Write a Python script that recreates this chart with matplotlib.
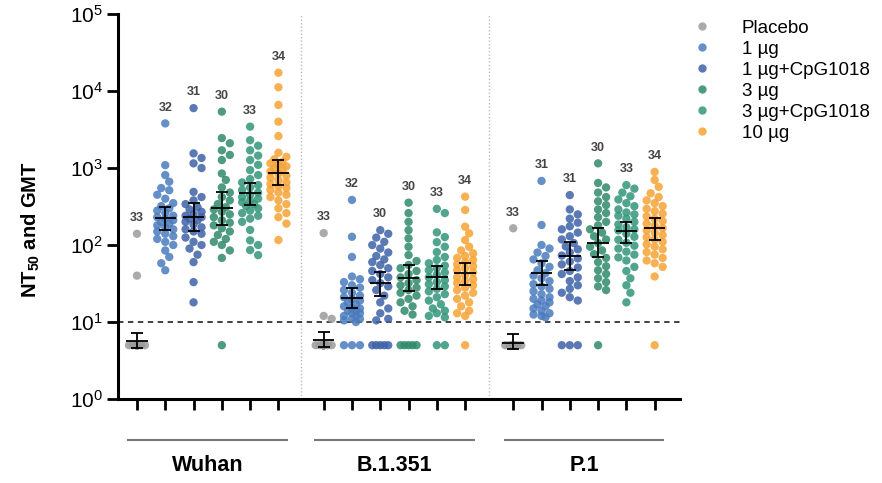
import numpy as np
import matplotlib
matplotlib.use('Agg')
import matplotlib.pyplot as plt
from matplotlib.lines import Line2D
import matplotlib.transforms as mtransforms

plt.rcParams['font.family'] = ['Liberation Sans', 'DejaVu Sans']
plt.rcParams['mathtext.fontset'] = 'custom'
plt.rcParams['mathtext.rm'] = 'Liberation Sans'
plt.rcParams['mathtext.bf'] = 'Liberation Sans:bold'

# ---- data ----
variants = ['Wuhan', 'B.1.351', 'P.1']
groups = ['Placebo', '1 µg', '1 µg+CpG1018', '3 µg', '3 µg+CpG1018', '10 µg']
colors = ['#9b9b9b', '#4a7bbd', '#3e63a8', '#2f8a6c', '#33957a', '#f6a234']

n_labels = [[33, 32, 31, 30, 33, 34],
            [33, 32, 30, 30, 33, 34],
            [33, 31, 31, 30, 33, 34]]

wuhan = [
    [140, 40] + [5] * 31,
    [3800, 1090, 810, 665, 550, 515, 450, 400, 350, 320, 300, 280, 260, 240, 230, 220,
     210, 200, 190, 180, 170, 160, 150, 140, 130, 120, 110, 100, 85, 70, 58, 47],
    [6000, 1550, 1350, 1150, 1000, 490, 420, 380, 340, 310, 290, 270, 250, 240, 230, 220,
     210, 200, 185, 170, 160, 150, 140, 125, 110, 100, 90, 75, 60, 33, 18],
    [5400, 2450, 2100, 1700, 1480, 1270, 850, 700, 560, 480, 420, 380, 340, 310, 290,
     270, 250, 230, 210, 195, 180, 165, 150, 135, 120, 110, 100, 85, 68, 5],
    [3450, 2300, 1950, 1700, 1450, 1270, 1100, 940, 810, 720, 650, 600, 560, 520, 480,
     450, 420, 400, 380, 360, 340, 320, 300, 280, 260, 240, 220, 200, 157, 115, 100, 86, 74],
    [17300, 11200, 6600, 4000, 2600, 1580, 1400, 1300, 1200, 1150, 1100, 1050, 1000, 950,
     900, 850, 800, 750, 700, 650, 620, 580, 550, 520, 480, 450, 420, 380, 340, 300, 260,
     230, 190, 116],
]
b1351 = [
    [143, 12, 11] + [5] * 30,
    [385, 128, 70, 39, 36, 33, 30, 28, 26, 24, 22, 21, 20, 19, 18, 17, 16, 15, 15, 14, 14,
     13, 13, 12, 12, 11, 11, 10.5, 10, 5, 5, 5],
    [156, 140, 125, 110, 100, 90, 80, 72, 65, 60, 55, 50, 46, 42, 38, 35, 32, 29, 26, 22,
     18, 15, 13, 11, 10.5, 5, 5, 5, 5, 5],
    [355, 260, 200, 156, 122, 95, 74, 62, 55, 50, 46, 42, 38, 35, 32, 30, 28, 26, 24, 22,
     20, 18, 16, 14, 12.5, 5, 5, 5, 5, 5],
    [295, 260, 146, 127, 109, 95, 81, 70, 64, 58, 54, 50, 47, 44, 41, 38, 35, 33, 31, 29,
     27, 25, 23, 21, 19, 17, 15, 14, 13, 12, 11.5, 5, 5],
    [425, 285, 173, 142, 116, 95, 85, 78, 72, 68, 64, 60, 56, 53, 50, 47, 44, 41, 38, 36,
     34, 32, 30, 28, 26, 24, 22, 20, 18, 16, 14, 13, 12, 5],
]
p1 = [
    [165] + [5] * 32,
    [680, 182, 100, 90, 80, 72, 65, 58, 52, 47, 43, 40, 37, 34, 31, 29, 27, 25, 23, 21, 20,
     19, 18, 17, 16, 15, 14, 13, 12.5, 12, 11.5],
    [445, 290, 250, 220, 195, 175, 160, 145, 130, 118, 106, 96, 88, 80, 73, 67, 61, 56, 51,
     46, 42, 38, 34, 30, 27, 24, 21, 19, 5, 5, 5],
    [1150, 640, 560, 480, 420, 370, 330, 290, 260, 230, 200, 180, 160, 145, 130, 118, 106,
     95, 85, 76, 68, 60, 53, 47, 42, 37, 33, 29, 26, 5],
    [600, 540, 480, 430, 390, 350, 320, 290, 265, 250, 240, 220, 200, 185, 170, 160, 155,
     140, 128, 117, 107, 98, 90, 82, 75, 69, 63, 52, 46, 37, 30, 24, 18],
    [890, 700, 570, 470, 420, 380, 350, 320, 295, 275, 255, 235, 220, 205, 190, 178, 166,
     155, 145, 135, 126, 118, 110, 102, 95, 88, 81, 75, 68, 63, 58, 52, 39, 5],
]
all_data = [wuhan, b1351, p1]

# geometric means and 95% CI as drawn
gmt = [[5.6, 224, 230, 302, 473, 860],
       [5.8, 20.5, 32, 37, 38, 43],
       [5.3, 43, 72, 106, 152, 166]]
ci_lo = [[4.6, 157, 152, 182, 331, 600],
         [4.7, 15, 22, 25, 27, 30],
         [4.5, 30, 47, 70, 106, 116]]
ci_hi = [[7.2, 311, 350, 490, 640, 1260],
         [7.4, 28, 45, 55, 54, 58],
         [7.0, 62, 109, 166, 200, 225]]

lod = 10
offsets = [0, 6.6, 13.3]

# ---- figure ----
fig = plt.figure(figsize=(8.82, 4.83), dpi=100)
ax = fig.add_axes([0.1338, 0.1739, 0.637, 0.797])
ax.set_yscale('log')
ax.set_ylim(1, 1e5)
ax.set_xlim(-0.67, 19.19)

px_per_unit = 28.3
px_per_decade = 77.0
dot_d = 8.0


def swarm(values, max_off=8.0):
    # simple beeswarm in pixel space, overlapping once max_off is hit
    vals = np.sort(np.asarray(values, float))[::-1]
    ys = np.log10(vals) * px_per_decade
    placed = []
    xs = []
    cands = [0.0]
    k = 1
    while k * dot_d * 0.5 <= max_off + 1e-9:
        cands += [k * dot_d * 0.5, -k * dot_d * 0.5]
        k += 1
    for y in ys:
        best, best_score = 0.0, -1
        for c in cands:
            if placed:
                d = min(np.hypot(c - px, y - py) for px, py in placed)
            else:
                d = 99
            score = min(d, dot_d * 0.95)
            if score > best_score + 1e-6:
                best, best_score = c, score
        placed.append((best, y))
        xs.append(best)
    return np.array(xs) / px_per_unit, vals


positions = []
for v in range(3):
    for g in range(6):
        x0 = offsets[v] + g
        positions.append(x0)
        xo, vals = swarm(all_data[v][g])
        ax.scatter(x0 + xo, vals, s=36, color=colors[g], alpha=0.85,
                   edgecolors='none', zorder=3)
        ax.errorbar(x0, gmt[v][g],
                    yerr=[[gmt[v][g] - ci_lo[v][g]], [ci_hi[v][g] - gmt[v][g]]],
                    fmt='none', ecolor='black', elinewidth=1.3, capsize=4.5,
                    capthick=1.3, zorder=4)
        ax.hlines(gmt[v][g], x0 - 0.38, x0 + 0.38, color='black', lw=1.3, zorder=4)
        ax.annotate(str(n_labels[v][g]), (x0, max(all_data[v][g])),
                    xytext=(0, 7), textcoords='offset points', ha='center',
                    va='bottom', fontsize=9, fontweight='bold', color='#444444')

# limit of detection and separators
ax.axhline(lod, color='#333333', lw=1.3, ls=(0, (3, 2.5)), zorder=2)
for xs in [(offsets[0] + 5 + offsets[1]) / 2, (offsets[1] + 5 + offsets[2]) / 2]:
    ax.axvline(xs, color='#bbbbbb', lw=1, ls=(0, (1, 1.5)), zorder=1)

# axes styling
for s in ['top', 'right']:
    ax.spines[s].set_visible(False)
for s in ['left', 'bottom']:
    ax.spines[s].set_linewidth(2.2)
ax.set_xticks(positions)
ax.set_xticklabels([])
ax.set_yticks([1, 10, 100, 1000, 1e4, 1e5])
ax.minorticks_off()
ax.yaxis.set_minor_locator(matplotlib.ticker.NullLocator())
ax.tick_params(axis='both', length=8, width=2, color='black')
ax.tick_params(axis='y', labelsize=15, pad=3)
ax.set_ylabel(r'NT$_{\mathbf{50}}$ and GMT', fontsize=14.5, fontweight='bold')
ax.yaxis.set_label_coords(-0.135, 0.44)

# group labels under the axis
trans = mtransforms.blended_transform_factory(ax.transData, ax.transAxes)
for v, name in enumerate(variants):
    a, b = offsets[v] - 0.3, offsets[v] + 5 + 0.3
    ax.plot([a, b], [-0.106, -0.106], transform=trans, color='#777777', lw=1.5,
            clip_on=False)
    ax.text((a + b) / 2, -0.174, name, transform=trans, ha='center', va='center',
            fontsize=15.5, fontweight='bold')

# legend
handles = [Line2D([], [], ls='none', marker='o', ms=6, color=c, alpha=0.85,
                  markeredgewidth=0) for c in colors]
fig.legend(handles, groups, loc='upper left', bbox_to_anchor=(0.777, 0.975),
           frameon=False, fontsize=13.5, handletextpad=1.6, labelspacing=0.21,
           handlelength=1.0, borderaxespad=0)

fig.savefig('out.png', dpi=100)
